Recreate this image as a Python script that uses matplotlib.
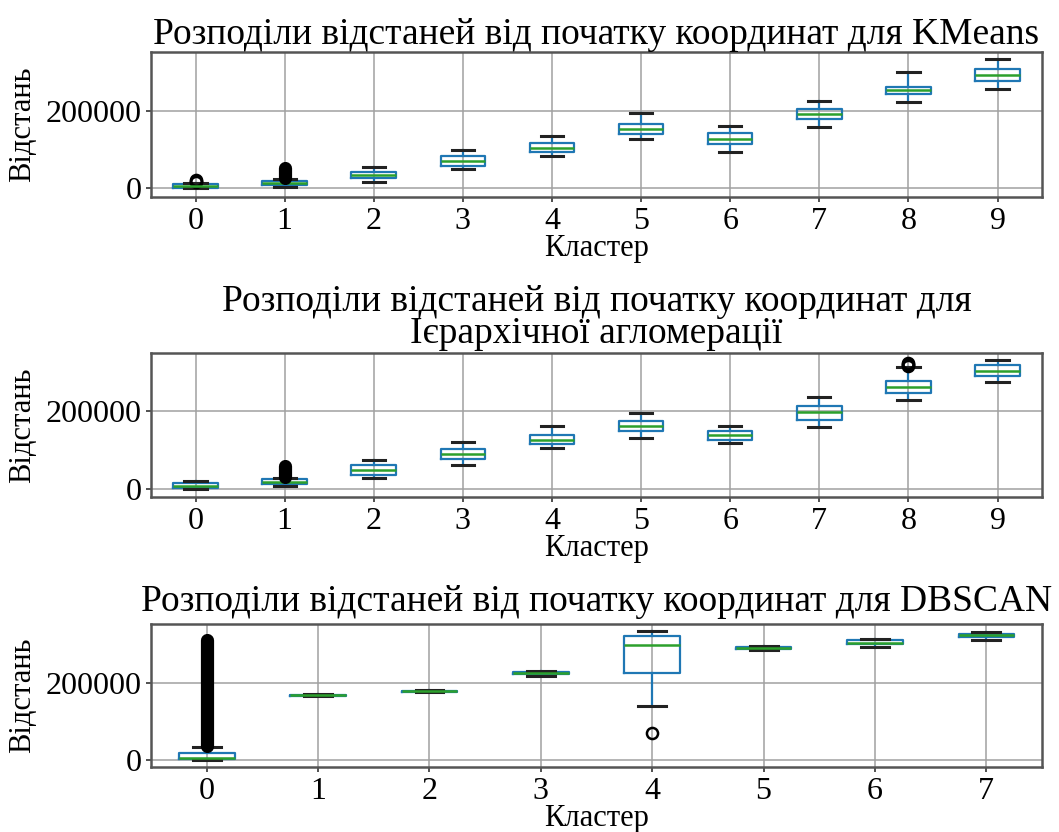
import matplotlib.pyplot as plt

plt.rcParams['font.family'] = ['Liberation Serif', 'DejaVu Serif']

# --- KMeans ---
km_clusters = list(range(10))
km_med = [5000, 13000, 33000, 70000, 104700, 153000, 127000, 192000, 253700, 294000]
km_q1 = [1000, 7000, 25000, 58000, 92700, 140000, 113500, 178000, 243000, 277000]
km_q3 = [10400, 19000, 40800, 83000, 116000, 166000, 142000, 206000, 263000, 308000]
km_lo = [0, 3000, 16400, 50000, 84000, 128000, 94300, 158000, 223000, 257000]
km_hi = [14000, 24000, 54500, 98700, 135000, 194000, 162000, 226000, 300000, 335000]
km_fliers = {0: [16000, 18500, 21000]}
km_dense = {1: (27000, 52000)}

# --- Ієрархічна агломерація ---
hc_clusters = list(range(10))
hc_med = [8500, 18800, 48000, 90000, 125600, 163000, 137700, 197000, 262000, 302500]
hc_q1 = [1000, 12500, 35900, 77000, 114600, 149500, 127000, 178700, 248000, 290000]
hc_q3 = [14600, 25000, 61500, 102000, 137700, 175000, 148000, 213000, 277000, 318000]
hc_lo = [0, 8000, 29000, 61500, 106000, 131500, 118700, 160000, 229000, 276000]
hc_hi = [21000, 28000, 74000, 120500, 163000, 195000, 163000, 236700, 312800, 333000]
hc_fliers = {8: [316000, 319000, 322000, 325000]}
hc_dense = {1: (30000, 60000)}

# --- DBSCAN ---
db_clusters = list(range(8))
db_med = [6000, 167000, 178000, 224600, 298000, 288500, 303000, 321500]
db_q1 = [1800, 166000, 176800, 221500, 225000, 286500, 298300, 317000]
db_q3 = [18800, 168300, 179300, 228000, 321000, 290500, 308500, 326300]
db_lo = [0, 164500, 175500, 218000, 139000, 283500, 292200, 311000]
db_hi = [34000, 170000, 181000, 231000, 332000, 293500, 312600, 329600]
db_fliers = {4: [69600]}
db_dense = {0: (37000, 311000)}

titles = [
    'Розподіли відстаней від початку координат для KMeans',
    'Розподіли відстаней від початку координат для\nІєрархічної агломерації',
    'Розподіли відстаней від початку координат для DBSCAN',
]

datasets = [
    (km_clusters, km_med, km_q1, km_q3, km_lo, km_hi, km_fliers, km_dense),
    (hc_clusters, hc_med, hc_q1, hc_q3, hc_lo, hc_hi, hc_fliers, hc_dense),
    (db_clusters, db_med, db_q1, db_q3, db_lo, db_hi, db_fliers, db_dense),
]

fig = plt.figure(figsize=(10.59, 8.32), dpi=100)
rects = [
    [0.1426, 0.7632, 0.8414, 0.1743],
    [0.1426, 0.4026, 0.8414, 0.1731],
    [0.1426, 0.0781, 0.8414, 0.1719],
]
ylims = [(-23400, 353000), (-21000, 350000), (-18000, 351000)]
pads = [5, 7, 9.5]

for i, (cl, med, q1, q3, lo, hi, fl, dense) in enumerate(datasets):
    ax = fig.add_axes(rects[i])
    stats = []
    for k in range(len(cl)):
        stats.append(dict(med=med[k], q1=q1[k], q3=q3[k], whislo=lo[k],
                          whishi=hi[k], fliers=fl.get(k, [])))
    ax.bxp(stats, positions=cl, widths=0.5, manage_ticks=False,
           boxprops=dict(color='#1f77b4', linewidth=1.6),
           whiskerprops=dict(color='#1f77b4', linewidth=1.6),
           capprops=dict(color='#222222', linewidth=2.2),
           medianprops=dict(color='#2ca02c', linewidth=1.8),
           flierprops=dict(marker='o', markersize=8, markeredgewidth=1.8,
                           markeredgecolor='k', markerfacecolor='none'))
    # very dense outliers merge into a solid column
    for k, (a, b) in dense.items():
        ax.vlines(cl[k], a, b, colors='k', linewidth=9.5, capstyle='round', zorder=3)

    ax.set_xlim(-0.5, len(cl) - 0.5)
    ax.set_ylim(*ylims[i])
    ax.set_xticks(cl)
    ax.set_xticklabels([str(c) for c in cl])
    ax.set_yticks([0, 200000])
    ax.set_yticklabels(['0', '200000'])
    ax.tick_params(labelsize=23, color='#333333', width=1.2)
    ax.grid(True, color='#a0a0a0', linewidth=1.1)
    ax.set_axisbelow(True)
    for s in ax.spines.values():
        s.set_linewidth(1.8)
        s.set_color('#555555')
    ax.set_title(titles[i], fontsize=27, pad=pads[i], linespacing=0.9)
    ax.set_xlabel('Кластер', fontsize=22, labelpad=-1)
    ax.set_ylabel('Відстань', fontsize=22)
    ax.yaxis.set_label_coords(-0.128, 0.5)

fig.savefig('out.png', dpi=100)
